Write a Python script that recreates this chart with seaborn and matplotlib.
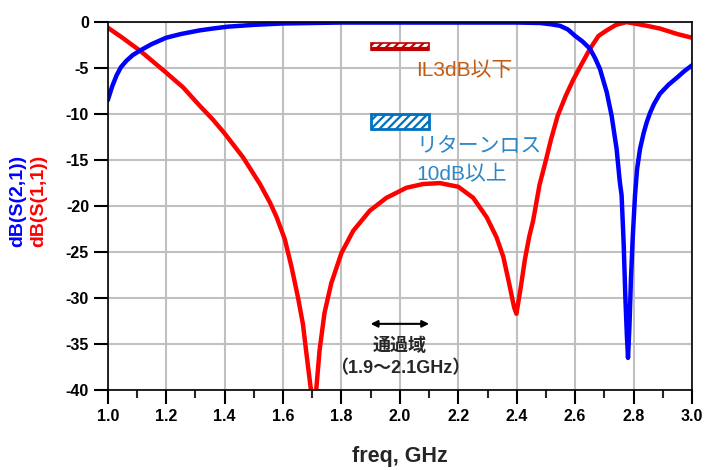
import numpy as np
import pandas as pd
import matplotlib
matplotlib.use("Agg")
import matplotlib.pyplot as plt
import seaborn as sns
from matplotlib.patches import Rectangle

# ==================================
# DATA
# ==================================
s21_freq = [1.0, 1.015, 1.03, 1.045, 1.064, 1.085, 1.11, 1.15, 1.2, 1.25, 1.315,
            1.36, 1.41, 1.5, 1.6, 1.8, 2.0, 2.2, 2.4, 2.48, 2.52, 2.548, 2.575,
            2.6, 2.625, 2.651, 2.668, 2.685, 2.708, 2.725, 2.742, 2.753, 2.759,
            2.766, 2.772, 2.777, 2.781, 2.786, 2.791, 2.797, 2.805, 2.812, 2.822,
            2.835, 2.845, 2.856, 2.87, 2.89, 2.92, 2.95, 2.975, 3.0]
s21_db = [-8.5, -7.0, -5.8, -4.9, -4.2, -3.6, -3.1, -2.4, -1.7, -1.3, -0.9,
          -0.7, -0.5, -0.3, -0.15, -0.05, -0.05, -0.05, -0.05, -0.1, -0.25, -0.4, -0.8,
          -1.5, -2.1, -2.9, -3.9, -5.1, -7.6, -10.2, -13.8, -17.4, -18.8,
          -24.0, -30.0, -34.0, -36.5, -33.0, -28.0, -23.5, -18.8, -16.0, -13.8,
          -12.0, -10.9, -9.9, -8.9, -7.8, -6.8, -6.0, -5.3, -4.7]

s11_freq = [1.0, 1.05, 1.11, 1.144, 1.2, 1.258, 1.315, 1.36, 1.4, 1.463, 1.521,
            1.555, 1.578, 1.606, 1.629, 1.651, 1.668, 1.68, 1.694, 1.7, 1.707,
            1.713, 1.725, 1.742, 1.765, 1.8, 1.84, 1.897, 1.954, 2.023, 2.08,
            2.137, 2.2, 2.251, 2.297, 2.331, 2.354, 2.374, 2.391, 2.399, 2.414,
            2.428, 2.443, 2.456, 2.464, 2.478, 2.5, 2.517, 2.54, 2.568, 2.593,
            2.625, 2.651, 2.68, 2.708, 2.74, 2.776, 2.81, 2.845, 2.89, 2.95, 3.0]
s11_db = [-0.6, -1.7, -3.1, -4.0, -5.5, -7.1, -9.1, -10.6, -12.1, -14.7, -17.6,
          -19.6, -21.2, -23.6, -26.6, -29.9, -32.8, -36.0, -39.6, -41.0, -40.5,
          -40.2, -35.7, -31.6, -28.4, -25.1, -22.7, -20.5, -19.1, -18.0, -17.6,
          -17.5, -17.9, -19.1, -21.2, -23.4, -25.5, -28.4, -31.0, -31.7, -28.8,
          -25.8, -23.3, -21.6, -20.2, -17.7, -15.0, -12.8, -10.2, -8.0, -6.3,
          -4.4, -2.9, -1.5, -0.9, -0.3, 0.0, -0.2, -0.4, -0.7, -1.3, -1.7]

xticks = [1.0, 1.2, 1.4, 1.6, 1.8, 2.0, 2.2, 2.4, 2.6, 2.8, 3.0]
yticks = [0, -5, -10, -15, -20, -25, -30, -35, -40]

s21 = pd.DataFrame({"freq": s21_freq, "db": s21_db})
s11 = pd.DataFrame({"freq": s11_freq, "db": s11_db})

# ==================================
# STYLE
# ==================================
sns.set_style("white")
plt.rcParams['font.family'] = ['Liberation Sans', 'Noto Sans CJK JP', 'DejaVu Sans']
plt.rcParams['hatch.linewidth'] = 1.6

fig = plt.figure(figsize=(7.09, 4.70), dpi=100)
ax = fig.add_axes([0.152, 0.170, 0.824, 0.783])

sns.lineplot(data=s11, x="freq", y="db", color="#ff0000", lw=3.2, ax=ax, sort=False,
             solid_joinstyle="round")
sns.lineplot(data=s21, x="freq", y="db", color="#0000ff", lw=3.2, ax=ax, sort=False,
             solid_joinstyle="round")

ax.set_xlim(1.0, 3.0)
ax.set_ylim(-40, 0)
ax.set_xticks(xticks)
ax.set_xticks(np.arange(1.1, 3.0, 0.2), minor=True)
ax.set_yticks(yticks)
ax.set_xticklabels([f"{v:.1f}" for v in xticks], fontweight="bold", fontsize=11.5)
ax.set_yticklabels([str(v) for v in yticks], fontweight="bold", fontsize=11.5)
ax.grid(True, color="#c0c0c0", lw=1.5)
ax.set_axisbelow(True)
ax.tick_params(axis="both", which="major", direction="out", length=10, width=1.5,
               bottom=True, left=True, colors="black")
ax.tick_params(axis="x", which="minor", direction="out", length=6, width=1.5, bottom=True)
for sp in ax.spines.values():
    sp.set_color("black")
    sp.set_linewidth(1.2)

ax.set_xlabel("freq, GHz", fontsize=15.5, fontweight="bold", labelpad=16)
ax.set_ylabel("")
fig.text(0.025, 0.572, "dB(S(2,1))", rotation=90, color="#0000ff", fontsize=14,
         fontweight="bold", ha="center", va="center")
fig.text(0.054, 0.572, "dB(S(1,1))", rotation=90, color="#ff0000", fontsize=14,
         fontweight="bold", ha="center", va="center")

# ==================================
# ANNOTATIONS
# ==================================
il_col = "#c00000"
rl_col = "#0070c0"
ax.add_patch(Rectangle((1.9, -3.0), 0.2, 0.7, facecolor="white", edgecolor=il_col,
                       hatch="////", lw=1.2, zorder=4))
ax.plot([1.9, 2.1], [-2.95, -2.95], color=il_col, lw=3, zorder=5, solid_capstyle="butt")
ax.add_patch(Rectangle((1.9, -11.6), 0.2, 1.6, facecolor="white", edgecolor=rl_col,
                       hatch="////", lw=2, zorder=4))

ax.text(2.057, -5.3, "IL3dB以下", color="#c55a11", fontsize=15, va="center", ha="left")
ax.text(2.057, -13.5, "リターンロス", color="#2e86c8", fontsize=15, va="center", ha="left")
ax.text(2.057, -16.6, "10dB以上", color="#2e86c8", fontsize=15, va="center", ha="left")

ax.annotate("", xy=(1.9, -32.8), xytext=(2.1, -32.8),
            arrowprops=dict(arrowstyle="<|-|>", color="black", lw=1.5,
                            mutation_scale=10, shrinkA=0, shrinkB=0))
ax.text(2.0, -35.3, "通過域", fontsize=13, fontweight="bold", ha="center", va="center")
ax.text(2.0, -37.7, "（1.9～2.1GHz）", fontsize=13, fontweight="bold", ha="center", va="center")

fig.savefig("out.png", dpi=100)
